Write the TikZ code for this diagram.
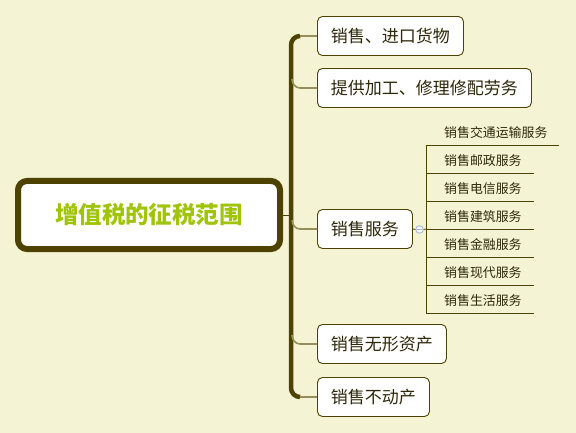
\documentclass[tikz,border=0pt]{standalone}
\usepackage{fontspec}
\usetikzlibrary{calc}
\newfontfamily\cjk{Noto Sans CJK SC}
\definecolor{bg}{RGB}{244,244,212}
\definecolor{olive}{RGB}{78,66,0}
\definecolor{branchc}{RGB}{150,142,90}
\definecolor{txt}{RGB}{45,40,10}
\definecolor{green}{RGB}{160,196,10}
\definecolor{ctl}{RGB}{160,176,208}
\begin{document}
\begin{tikzpicture}[x=1pt,y=-1pt,
  topic/.style={draw=olive, line width=0.9pt, fill=white, rounded corners=5pt, anchor=west,
    minimum height=39pt, inner xsep=13.5pt, font=\cjk\fontsize{17}{19}\selectfont, text=txt},
  sub/.style={anchor=west, inner sep=0pt, font=\cjk\fontsize{12.9}{14}\selectfont, text=txt},
  branch/.style={draw=branchc, line width=1.6pt},
  trunk/.style={draw=olive, line width=4.5pt},
  uline/.style={draw=olive, line width=0.8pt}]
\fill[bg] (0,0) rectangle (576,433);
\useasboundingbox (0,0) rectangle (576,433);
% central topic
\node[draw=olive, line width=6pt, fill=white, rounded corners=9pt, minimum width=262pt, minimum height=68pt,
  font=\cjk\bfseries\fontsize{23.5}{26}\selectfont, text=green] (root) at (149,215) {增值税的征税范围};
% main topics
\node[topic] (t1) at (317,36) {销售、进口货物};
\node[topic] (t2) at (317,88) {提供加工、修理修配劳务};
\node[topic] (t3) at (317,229) {销售服务};
\node[topic] (t4) at (317,344) {销售无形资产};
\node[topic] (t5) at (317,397) {销售不动产};
% trunk
\coordinate (top) at (300,36);
\coordinate (bot) at (300,397);
\draw[trunk, rounded corners=9pt] (top) -- (291,36) -- (291,397) -- (bot);
\draw[draw=olive, line width=1pt] (root.east) -- (291,215);
% branches
\draw[branch] (top) -- (t1.west);
\draw[branch] (bot) -- (t5.west);
\draw[branch] (292,79) to[out=-90,in=180] (300,88) -- (t2.west);
\draw[branch] (292,220) to[out=-90,in=180] (300,229) -- (t3.west);
\draw[branch] (292,335) to[out=-90,in=180] (300,344) -- (t4.west);
% collapse control
\node[circle, draw=ctl, fill=white, line width=0.8pt, minimum size=7.5pt, inner sep=0pt] (ctrl) at (419.5,229.5) {};
\draw[ctl, line width=0.8pt] ($(ctrl.center)+(-2.2,0)$) -- ($(ctrl.center)+(2.2,0)$);
\draw[uline] (t3.east) -- (ctrl.west);
\coordinate (vj) at (426,229);
\draw[uline] (ctrl.east) -- (vj);
% sub items
\coordinate (v0) at (426,145);
\coordinate (v1) at (426,313);
\draw[uline] (v0) -- (v1);
\foreach \y/\w/\t in {145/559/销售交通运输服务, 173/534/销售邮政服务, 201/534/销售电信服务, 229/534/销售建筑服务, 257/534/销售金融服务, 285/534/销售现代服务, 313/534/销售生活服务}{
  \draw[uline] (426,\y) -- (\w,\y);
  \node[sub] at (444,\y-12) {\t};
}
\end{tikzpicture}
\end{document}
